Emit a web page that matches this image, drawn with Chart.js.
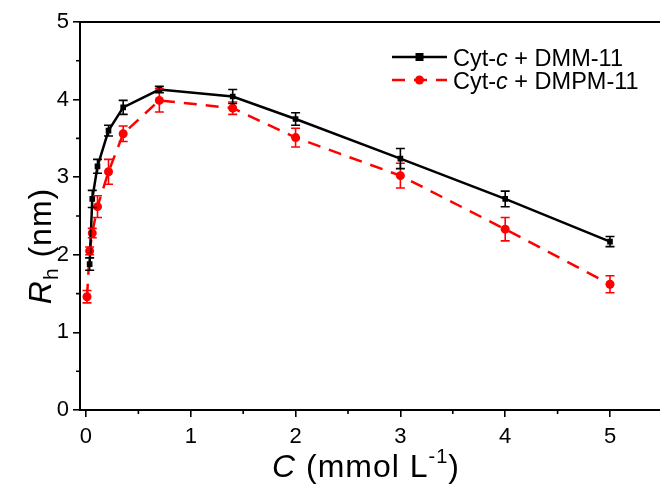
<!DOCTYPE html>
<html>
<head>
<meta charset="utf-8">
<script src="https://cdn.jsdelivr.net/npm/chart.js@4/dist/chart.umd.min.js"></script>
<style>
  html, body { margin: 0; padding: 0; background: #fff; overflow: hidden; }
  #wrap { width: 660px; height: 487px; overflow: hidden; }
</style>
</head>
<body>
<div id="wrap"><canvas id="rhChart" width="680" height="487"></canvas></div>
<script>
// hydrodynamic radius vs. surfactant concentration
const concDMM = [0.035, 0.06, 0.11, 0.215, 0.355, 0.70, 1.4, 2, 3, 4, 5];
const rhDMM = [1.88, 2.72, 3.14, 3.60, 3.90, 4.13, 4.04, 3.75, 3.24, 2.72, 2.17];
const errDMM = [0.08, 0.11, 0.09, 0.07, 0.09, 0.04, 0.09, 0.08, 0.13, 0.10, 0.065];

const concDMPM = [0.01, 0.035, 0.06, 0.11, 0.215, 0.355, 0.70, 1.4, 2, 3, 4, 5];
const rhDMPM = [1.46, 2.05, 2.28, 2.62, 3.07, 3.56, 3.99, 3.89, 3.51, 3.02, 2.33, 1.62];
const errDMPM = [0.08, 0.05, 0.06, 0.14, 0.16, 0.10, 0.15, 0.08, 0.12, 0.16, 0.15, 0.11];

const xTicks = [0, 1, 2, 3, 4, 5];
const yTicks = [0, 1, 2, 3, 4, 5];

const FONT = '"Liberation Sans", Arial, sans-serif';

function pts(xs, ys) {
  return xs.map((x, i) => ({ x: x, y: ys[i] }));
}

// error bars, minor ticks, top frame line, axis titles and legend
const extras = {
  id: 'extras',
  afterDatasetsDraw(chart) {
    const ctx = chart.ctx;
    const xs = chart.scales.x, ys = chart.scales.y;
    const sets = [
      { c: concDMPM, v: rhDMPM, e: errDMPM, color: '#ff0000' },
      { c: concDMM, v: rhDMM, e: errDMM, color: '#000000' }
    ];
    ctx.save();
    ctx.lineWidth = 1.6;
    sets.forEach(s => {
      ctx.strokeStyle = s.color;
      s.c.forEach((x, i) => {
        const px = xs.getPixelForValue(x);
        const top = ys.getPixelForValue(s.v[i] + s.e[i]);
        const bot = ys.getPixelForValue(s.v[i] - s.e[i]);
        ctx.beginPath();
        ctx.moveTo(px, top); ctx.lineTo(px, bot);
        ctx.moveTo(px - 4.5, top); ctx.lineTo(px + 4.5, top);
        ctx.moveTo(px - 4.5, bot); ctx.lineTo(px + 4.5, bot);
        ctx.stroke();
      });
    });
    ctx.restore();
  },
  afterDraw(chart) {
    const ctx = chart.ctx;
    const area = chart.chartArea;
    const xs = chart.scales.x, ys = chart.scales.y;
    ctx.save();
    ctx.strokeStyle = '#000';
    ctx.lineWidth = 2;
    // top frame
    ctx.beginPath();
    ctx.moveTo(area.left - 1, area.top);
    ctx.lineTo(area.right + 1, area.top);
    ctx.stroke();
    // minor ticks
    ctx.lineWidth = 1.6;
    ctx.beginPath();
    for (let v = 0.5; v < 5.6; v += 1) {
      const px = xs.getPixelForValue(v);
      ctx.moveTo(px, area.bottom); ctx.lineTo(px, area.bottom + 4);
      if (v < 5) {
        const py = ys.getPixelForValue(v);
        ctx.moveTo(area.left, py); ctx.lineTo(area.left - 4, py);
      }
    }
    ctx.stroke();

    ctx.fillStyle = '#000';
    ctx.textBaseline = 'alphabetic';
    // x title: C (mmol L-1)
    const parts = [
      { t: 'C', f: 'italic 32px ' + FONT, dy: 0 },
      { t: ' (mmol L', f: '32px ' + FONT, dy: 0 },
      { t: '-1', f: '20px ' + FONT, dy: -14 },
      { t: ')', f: '32px ' + FONT, dy: 0 }
    ];
    ctx.letterSpacing = '1px';
    let w = 0;
    parts.forEach(p => { ctx.font = p.f; p.w = ctx.measureText(p.t).width; w += p.w; });
    let x0 = 366 - w / 2;
    parts.forEach(p => { ctx.font = p.f; ctx.fillText(p.t, x0, 477 + p.dy); x0 += p.w; });

    // y title: Rh (nm)
    ctx.translate(51, 246);
    ctx.rotate(-Math.PI / 2);
    const yparts = [
      { t: 'R', f: 'italic 32px ' + FONT, dy: 0 },
      { t: 'h', f: '21px ' + FONT, dy: 7 },
      { t: ' (nm)', f: '32px ' + FONT, dy: 0 }
    ];
    w = 0;
    yparts.forEach(p => { ctx.font = p.f; p.w = ctx.measureText(p.t).width; w += p.w; });
    x0 = -w / 2;
    yparts.forEach(p => { ctx.font = p.f; ctx.fillText(p.t, x0, p.dy); x0 += p.w; });
    ctx.setTransform(1, 0, 0, 1, 0, 0);
    ctx.letterSpacing = '0px';

    // legend
    const ly1 = 57, ly2 = 80;
    ctx.lineWidth = 2.5;
    ctx.strokeStyle = '#000';
    ctx.beginPath(); ctx.moveTo(392, ly1); ctx.lineTo(447, ly1); ctx.stroke();
    ctx.fillRect(415.5, ly1 - 4, 8, 8);
    ctx.strokeStyle = '#ff0000';
    ctx.fillStyle = '#ff0000';
    ctx.setLineDash([13, 9]);
    ctx.beginPath(); ctx.moveTo(392, ly2); ctx.lineTo(447, ly2); ctx.stroke();
    ctx.setLineDash([]);
    ctx.beginPath(); ctx.arc(419.5, ly2, 4.5, 0, Math.PI * 2); ctx.fill();

    ctx.fillStyle = '#000';
    [[ly1, 'DMM-11'], [ly2, 'DMPM-11']].forEach(([ly, name]) => {
      let lx = 453;
      const segs = [
        { t: 'Cyt-', f: '23.5px ' + FONT },
        { t: 'c', f: 'italic 23.5px ' + FONT },
        { t: ' + ' + name, f: '23.5px ' + FONT }
      ];
      segs.forEach(s => {
        ctx.font = s.f;
        ctx.fillText(s.t, lx, ly + 8.5);
        lx += ctx.measureText(s.t).width;
      });
    });
    ctx.restore();
  }
};

new Chart(document.getElementById('rhChart').getContext('2d'), {
  type: 'scatter',
  data: {
    datasets: [
      {
        label: 'Cyt-c + DMM-11',
        data: pts(concDMM, rhDMM),
        showLine: true,
        borderColor: '#000',
        backgroundColor: '#000',
        borderWidth: 2.5,
        pointStyle: 'rect',
        pointRadius: 4,
        pointBorderWidth: 0,
        tension: 0
      },
      {
        label: 'Cyt-c + DMPM-11',
        data: pts(concDMPM, rhDMPM),
        showLine: true,
        borderColor: '#ff0000',
        backgroundColor: '#ff0000',
        borderWidth: 2.5,
        borderDash: [13, 9],
        pointStyle: 'circle',
        pointRadius: 4.5,
        pointBorderWidth: 0,
        tension: 0
      }
    ]
  },
  options: {
    responsive: false,
    animation: false,
    layout: { padding: { top: 22, right: 0, left: 0, bottom: 0 } },
    plugins: { legend: { display: false }, tooltip: { enabled: false } },
    scales: {
      x: {
        type: 'linear',
        min: -0.057,
        max: 5.625,
        afterBuildTicks: s => { s.ticks = xTicks.map(v => ({ value: v })); },
        afterFit: s => { s.height = 77; },
        ticks: { color: '#000', font: { family: FONT, size: 22 }, padding: 7 },
        grid: { drawOnChartArea: false, drawTicks: true, tickLength: 7, color: '#000', lineWidth: 1.6 },
        border: { color: '#000', width: 2 }
      },
      y: {
        min: 0,
        max: 5,
        afterBuildTicks: s => { s.ticks = yTicks.map(v => ({ value: v })); },
        afterFit: s => { s.width = 80; },
        ticks: { color: '#000', font: { family: FONT, size: 22 }, padding: 4 },
        grid: { drawOnChartArea: false, drawTicks: true, tickLength: 7, color: '#000', lineWidth: 1.6 },
        border: { color: '#000', width: 2 }
      }
    }
  },
  plugins: [extras]
});
</script>
</body>
</html>
